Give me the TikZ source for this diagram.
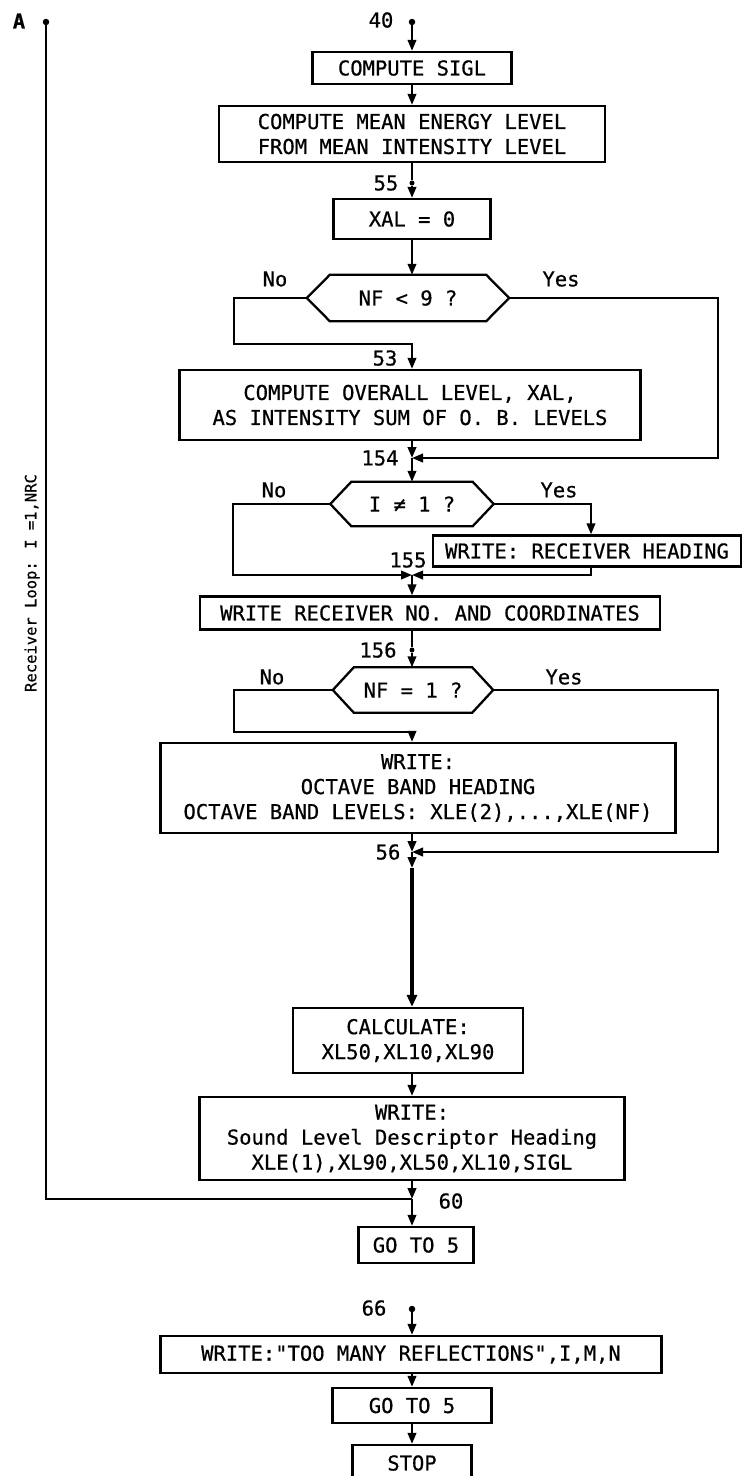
\documentclass[tikz,border=0pt]{standalone}
\usepackage{fontspec}
\newfontfamily\chartfont{DejaVu Sans Mono}[FakeBold=0.6]
\usetikzlibrary{arrows.meta}
\newcommand\boxfont{\chartfont\fontsize{20.5}{25}\selectfont}
\newcommand\hexshape[2]{% #1 node name, #2 tip extension
  \draw[flowline] (#1.west) -- ([xshift=#2]#1.north west) -- ([xshift=-#2]#1.north east)
    -- (#1.east) -- ([xshift=-#2]#1.south east) -- ([xshift=#2]#1.south west) -- cycle;}
\tikzset{
  flowline/.style={draw, line width=2.3pt},
  arr/.style={draw, line width=2.3pt, -{Triangle[length=11pt,width=8.5pt]}},
  heavyarr/.style={draw, line width=3.8pt, -{Triangle[length=12pt,width=10pt]}},
  procbox/.style={draw, line width=2.3pt, inner sep=0pt, font=\boxfont, align=center},
  txt/.style={font=\boxfont, inner sep=0pt},
  junc/.style={circle, fill, inner sep=0pt, minimum size=6.5pt},
}
\begin{document}
\begin{tikzpicture}[x=1pt, y=-1pt]
\useasboundingbox (0,0) rectangle (743,1476);

% process boxes
\node[procbox, minimum width=199pt, minimum height=32pt] (sigl) at (412,68) {COMPUTE SIGL};
\node[procbox, minimum width=386pt, minimum height=56pt] (mean) at (412,134)
  {COMPUTE MEAN ENERGY LEVEL\\FROM MEAN INTENSITY LEVEL};
\node[procbox, minimum width=157pt, minimum height=40pt] (xal) at (412,219) {XAL = 0};
\node[txt, minimum width=202pt, minimum height=46pt] (nf9) at (408,298) {NF < 9 ?};
\hexshape{nf9}{23pt}
\node[procbox, minimum width=461pt, minimum height=70pt] (ov) at (410,405)
  {COMPUTE OVERALL LEVEL, XAL,\\AS INTENSITY SUM OF O. B. LEVELS};
\node[txt, minimum width=163pt, minimum height=44pt] (ine) at (412,504) {I ≠ 1 ?};
\hexshape{ine}{21pt}
\node[procbox, minimum width=308pt, minimum height=31pt] (head) at (587,551) {WRITE: RECEIVER HEADING};
\node[procbox, minimum width=460pt, minimum height=33pt] (recv) at (430,613)
  {WRITE RECEIVER NO. AND COORDINATES};
\node[txt, minimum width=160pt, minimum height=45pt] (nfe) at (413,690) {NF = 1 ?};
\hexshape{nfe}{21pt}
\node[procbox, minimum width=515pt, minimum height=90pt] (oct) at (418,788)
  {WRITE:\\OCTAVE BAND HEADING\\OCTAVE BAND LEVELS: XLE(2),...,XLE(NF)};
\node[procbox, minimum width=230pt, minimum height=65pt] (calc) at (408,1040.5)
  {CALCULATE:\\XL50,XL10,XL90};
\node[procbox, minimum width=425pt, minimum height=83pt] (sound) at (412,1138.5)
  {WRITE:\\Sound Level Descriptor Heading\\XLE(1),XL90,XL50,XL10,SIGL};
\node[procbox, minimum width=115pt, minimum height=36pt] (goto1) at (416,1245) {GO TO 5};
\node[procbox, minimum width=501pt, minimum height=37pt] (many) at (411,1354.5)
  {WRITE:"TOO MANY REFLECTIONS",I,M,N};
\node[procbox, minimum width=159pt, minimum height=35pt] (goto2) at (412,1405.5) {GO TO 5};
\node[procbox, minimum width=119pt, minimum height=36pt] (stop) at (412,1463) {STOP};

% entry points and junctions
\node[junc] (pA) at (46,22) {};
\node[junc] (p40) at (412,22) {};
\node[junc, minimum size=5pt] (p55) at (412,183) {};
\coordinate (j53) at (412,344);
\coordinate (j154) at (412,458);
\coordinate (j155) at (412,575);
\node[junc, minimum size=5pt] (p156) at (412,650) {};
\coordinate (jno) at (412,732);
\coordinate (j56) at (412,852);
\coordinate (b56) at (412,868);
\coordinate (j60) at (412,1199);
\node[junc] (p66) at (412,1309) {};

% statement labels
\node[txt, font=\boxfont\bfseries] (lA) at (19,21) {A};
\node[txt] (l40) at (381,20) {40};
\node[txt] (l55) at (386,183) {55};
\node[txt] (l53) at (385,358) {53};
\node[txt] (l154) at (380,458) {154};
\node[txt] (l155) at (408,560) {155};
\node[txt] (l156) at (378,650) {156};
\node[txt] (l56) at (388,852) {56};
\node[txt] (l60) at (451,1201) {60};
\node[txt] (l66) at (374,1308) {66};
\node[txt] (no1) at (275,279) {No};
\node[txt] (yes1) at (561,279) {Yes};
\node[txt] (no2) at (274,490) {No};
\node[txt] (yes2) at (559,490) {Yes};
\node[txt] (no3) at (272,677) {No};
\node[txt] (yes3) at (564,677) {Yes};
\node[inner sep=0pt, rotate=90, font=\chartfont\fontsize{15.5}{18}\selectfont] (loop) at (32,583)
  {Receiver Loop: I =1,NRC};

% main flow
\draw[arr] (p40) -- (sigl.north);
\draw[arr] (sigl) -- (mean);
\draw[flowline] (mean.south) -- (p55);
\draw[arr] (p55) -- (xal.north);
\draw[arr] (xal) -- (nf9.north -| xal);
\draw[arr] (nf9.west) -- ++(-73,0) |- (j53) -- (ov.north -| j53);
\draw[arr] (nf9.east) -- ++(209,0) |- (j154);
\draw[arr] (ov.south -| j154) -- (j154);
\draw[arr] (j154) -- (ine.north -| j154);
\draw[arr] (ine.west) -- ++(-97,0) |- (j155);
\draw[arr] (ine.east) -| ([xshift=4pt]head.north);
\draw[arr] ([xshift=4pt]head.south) |- (j155);
\draw[arr] (j155) -- (recv.north -| j155);
\draw[flowline] (recv.south -| p156) -- (p156);
\draw[arr] (p156) -- (nfe.north -| p156);
\draw[arr] (nfe.west) -- ++(-99,0) |- (jno) -- (oct.north -| jno);
\draw[arr] (nfe.east) -- ++(225,0) |- (j56);
\draw[arr] (oct.south -| j56) -- (j56);
\draw[arr] (j56) -- (b56);
\draw[heavyarr] (b56) -- (calc.north -| b56);
\draw[arr] (calc.south -| sound) -- (sound.north);
\draw[arr] (sound.south) -- (j60);
\draw[arr] (j60) -- (goto1.north -| j60);
\draw[flowline] (j60) -| (pA);

% overflow exit
\draw[arr] (p66) -- (many.north -| p66);
\draw[arr] (many.south -| goto2) -- (goto2.north);
\draw[arr] (goto2) -- (stop);
\end{tikzpicture}
\end{document}
